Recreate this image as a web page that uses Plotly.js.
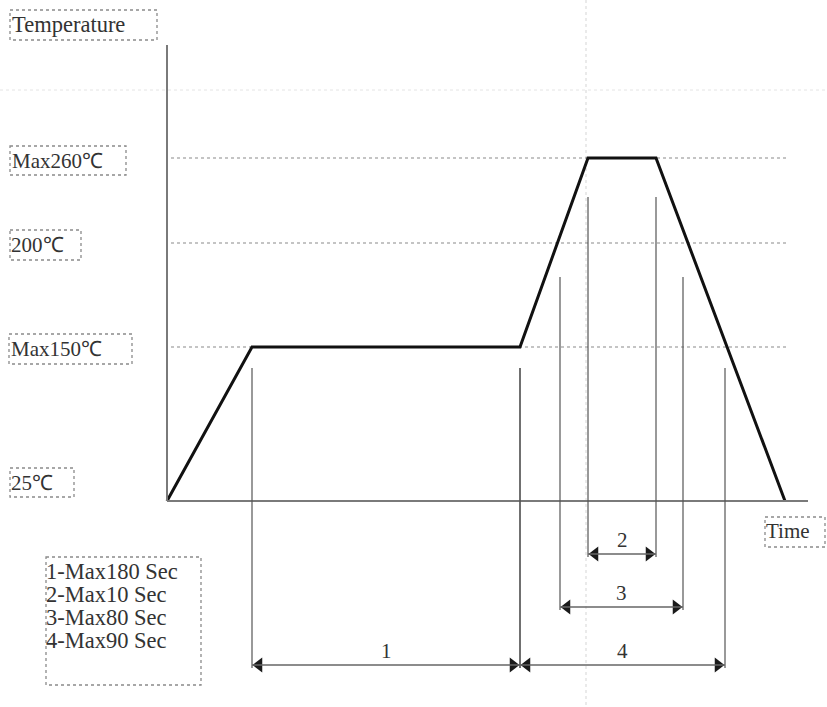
<!DOCTYPE html>
<html>
<head>
<meta charset="utf-8">
<script src="https://cdn.plot.ly/plotly-3.0.1.min.js"></script>
<style>html,body{margin:0;padding:0;background:#fff;}#chart{width:827px;height:707px;}</style>
</head>
<body>
<div id="chart"></div>
<script>
// ---- Data (schematic reflow profile) ----
const profileTime = [0, 85, 353, 421, 489, 618];      // schematic time units
const profileTemp = [25, 150, 150, 260, 260, 25];     // °C
const tempLevels  = [25, 150, 200, 260];
const tempLabels  = ['25℃', 'Max150℃', '200℃', 'Max260℃'];
const segNames    = ['1', '2', '3', '4'];
const segStart    = [85, 421, 393, 353];
const segEnd      = [353, 489, 516, 558];
const legendLines = ['1-Max180 Sec', '2-Max10 Sec', '3-Max80 Sec', '4-Max90 Sec'];
const yTitle = 'Temperature';
const xTitle = 'Time';

// ---- Layout helpers (schematic, non-linear temperature scale) ----
const levelPos = [0, 154, 258, 343];          // vertical position of each temperature level
function tempToY(t) {
  for (let i = 0; i < tempLevels.length - 1; i++) {
    if (t <= tempLevels[i + 1]) {
      const f = (t - tempLevels[i]) / (tempLevels[i + 1] - tempLevels[i]);
      return levelPos[i] + f * (levelPos[i + 1] - levelPos[i]);
    }
  }
  return levelPos[levelPos.length - 1];
}
const X0 = 167, Y0 = 501;                       // origin in page pixels
const px = p => p - X0;                         // page px -> x units
const py = p => Y0 - p;                         // page px -> y units

const FONT = 'Liberation Serif';
const TXT = '#333';
const FS = 21;
const FSL = 22.5;
const shapes = [];
const annotations = [];

// faint background guide lines
shapes.push({type:'line', xref:'x', yref:'y', x0:px(0), x1:px(827), y0:py(90), y1:py(90), line:{color:'#e4e4e4', width:1, dash:'dot'}, layer:'below'});
shapes.push({type:'line', xref:'x', yref:'y', x0:px(586), x1:px(586), y0:py(0), y1:py(707), line:{color:'#e4e4e4', width:1.5, dash:'dot'}, layer:'below'});

// axes
shapes.push({type:'line', x0:0, x1:0, y0:0, y1:py(45), line:{color:'#7a7a7a', width:2}});
shapes.push({type:'line', x0:0, x1:px(808), y0:0, y1:0, line:{color:'#7a7a7a', width:2}});

// dotted level reference lines (except 25)
for (let i = 1; i < tempLevels.length; i++) {
  const yv = tempToY(tempLevels[i]);
  shapes.push({type:'line', x0:px(171), x1:px(787), y0:yv, y1:yv, line:{color:'#8a8a8a', width:1.2, dash:'dot'}, layer:'below'});
}

// level label boxes
const labelBoxes = [
  {x0:10, x1:74, y0:468, y1:497, tx:9},
  {x0:9, x1:132, y0:334, y1:364, tx:9},
  {x0:10, x1:81, y0:230, y1:260, tx:9},
  {x0:10, x1:126, y0:146, y1:175, tx:10}
];
labelBoxes.forEach((b, i) => {
  shapes.push({type:'rect', x0:px(b.x0), x1:px(b.x1), y0:py(b.y0), y1:py(b.y1), line:{color:'#8a8a8a', width:1.3, dash:'dot'}});
  annotations.push({x:px(b.tx), y:py((b.y0 + b.y1) / 2), text:tempLabels[i], showarrow:false, xanchor:'left', yanchor:'middle', font:{family:FONT, size:FS, color:TXT}});
});
// axis title boxes
shapes.push({type:'rect', x0:px(10), x1:px(157), y0:py(10), y1:py(40), line:{color:'#8a8a8a', width:1.3, dash:'dot'}});
annotations.push({x:px(10), y:py(24), text:yTitle, showarrow:false, xanchor:'left', yanchor:'middle', font:{family:FONT, size:FSL, color:TXT}});
shapes.push({type:'rect', x0:px(765), x1:px(825), y0:py(517), y1:py(547), line:{color:'#8a8a8a', width:1.3, dash:'dot'}});
annotations.push({x:px(764), y:py(531), text:xTitle, showarrow:false, xanchor:'left', yanchor:'middle', font:{family:FONT, size:FS, color:TXT}});

// legend box
shapes.push({type:'rect', x0:px(46), x1:px(201), y0:py(557), y1:py(685), line:{color:'#8a8a8a', width:1.3, dash:'dot'}});
legendLines.forEach((s, i) => {
  annotations.push({x:px(44), y:py(571 + i * 23.3), text:s, showarrow:false, xanchor:'left', yanchor:'middle', font:{family:FONT, size:FSL, color:TXT}});
});

// dimension extension lines and arrows
const extTop = [py(368), py(197), py(277), py(368)];
const dimY   = [py(665), py(554), py(607), py(665)];
const arrowX = [], arrowY = [], arrowSym = [];
segNames.forEach((n, i) => {
  [segStart[i], segEnd[i]].forEach(xv => {
    shapes.push({type:'line', x0:xv, x1:xv, y0:extTop[i], y1:dimY[i] - 3, line:{color:'#555', width:1.2}});
  });
  shapes.push({type:'line', x0:segStart[i], x1:segEnd[i], y0:dimY[i], y1:dimY[i], line:{color:'#666', width:1.5}});
  arrowX.push(segStart[i] + 7, segEnd[i] - 7);
  arrowY.push(dimY[i], dimY[i]);
  arrowSym.push('triangle-left', 'triangle-right');
  annotations.push({x:(segStart[i] + segEnd[i]) / 2, y:dimY[i] + 14, text:n, showarrow:false, xanchor:'center', yanchor:'middle', font:{family:FONT, size:FS, color:TXT}});
});

const traces = [
  {
    x: profileTime, y: profileTemp.map(tempToY), type:'scatter', mode:'lines',
    line:{color:'#111', width:3}, hoverinfo:'skip', showlegend:false
  },
  {
    x: arrowX, y: arrowY, type:'scatter', mode:'markers',
    marker:{symbol:arrowSym, size:13, color:'#1a1a1a'}, hoverinfo:'skip', showlegend:false, cliponaxis:false
  }
];

const layout = {
  width:827, height:707, autosize:false,
  margin:{l:0, r:0, t:0, b:0, pad:0},
  paper_bgcolor:'#fff', plot_bgcolor:'#fff',
  xaxis:{range:[px(0), px(827)], visible:false, fixedrange:true},
  yaxis:{range:[py(707), py(0)], visible:false, fixedrange:true},
  shapes: shapes, annotations: annotations,
  showlegend:false, hovermode:false
};

Plotly.newPlot('chart', traces, layout, {displayModeBar:false, staticPlot:true});
</script>
</body>
</html>
